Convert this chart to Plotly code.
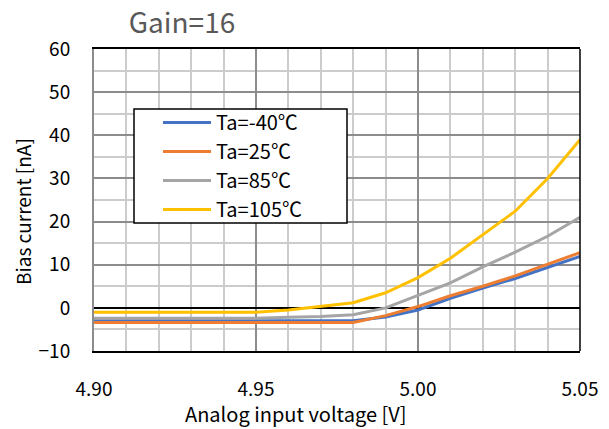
import plotly.graph_objects as go

# ── Data ───────────────────────────────────────────────────────────────────
voltage = [4.90, 4.91, 4.92, 4.93, 4.94, 4.95, 4.96, 4.97,
           4.98, 4.99, 5.00, 5.01, 5.02, 5.03, 5.04, 5.05]

ta_m40 = [-3.0, -3.0, -3.0, -3.0, -3.0, -3.0, -3.0, -3.0,
          -3.0, -2.1, -0.5, 2.2, 4.6, 6.8, 9.4, 11.9]
ta_25 = [-3.4, -3.4, -3.4, -3.4, -3.4, -3.4, -3.4, -3.4,
         -3.4, -1.8, 0.3, 2.8, 5.0, 7.4, 10.1, 12.8]
ta_85 = [-2.4, -2.4, -2.4, -2.4, -2.4, -2.4, -2.2, -2.0,
         -1.6, 0.0, 2.9, 5.8, 9.5, 12.9, 16.6, 21.0]
ta_105 = [-1.0, -1.0, -1.0, -1.0, -1.0, -1.0, -0.5, 0.3,
          1.2, 3.5, 7.0, 11.5, 17.0, 22.4, 30.0, 39.0]

series = [
    ("Ta=-40℃", ta_m40, "#4472C4"),
    ("Ta=25℃", ta_25, "#ED7D31"),
    ("Ta=85℃", ta_85, "#A5A5A5"),
    ("Ta=105℃", ta_105, "#FFC000"),
]

FONT = "Noto Sans CJK JP, DejaVu Sans, sans-serif"
OFF = 8                      # page body margin
W, H = 609 - OFF, 429 - OFF
L, T = 94 - OFF, 49 - OFF    # plot area in page pixels: 94..580 x 49..351
PW, PH = 486, 302
R, B = W - L - PW, H - T - PH


def px_x(x):
    return (x - OFF - L) / PW


def px_y(y):
    return 1 - (y - OFF - T) / PH


fig = go.Figure()
for name, vals, color in series:
    fig.add_trace(go.Scatter(
        x=voltage, y=vals, mode="lines", name=name,
        line=dict(color=color, width=3),
    ))

# legend frame (white box with black border)
fig.add_shape(type="rect", xref="paper", yref="paper",
              x0=px_x(134), x1=px_x(347), y0=px_y(223), y1=px_y(109),
              fillcolor="white", line=dict(color="black", width=1.5),
              layer="above")
# right border of plot area
fig.add_shape(type="line", xref="paper", yref="paper",
              x0=1, x1=1, y0=0, y1=1,
              line=dict(color="black", width=1.5), layer="above")

fig.add_annotation(text="Bias current [nA]", xref="paper", yref="paper",
                   x=px_x(22), y=px_y(212), xanchor="center", yanchor="middle",
                   textangle=-90, showarrow=False,
                   font=dict(size=19, color="black"))
fig.add_annotation(text="Analog input voltage [V]", xref="paper", yref="paper",
                   x=px_x(295), y=px_y(413), xanchor="center", yanchor="middle",
                   showarrow=False,
                   font=dict(size=20, color="black"))

fig.update_layout(
    width=W, height=H,
    paper_bgcolor="white", plot_bgcolor="white",
    font=dict(family=FONT, size=19, color="black"),
    margin=dict(l=L, r=R, t=T, b=B),
    title=dict(text="Gain=16", x=(182 - OFF) / W, xanchor="center",
               y=1 - (23 - OFF) / H, yanchor="middle",
               font=dict(size=28, color="#595959")),
    legend=dict(
        x=px_x(158), y=px_y(103),
        xanchor="left", yanchor="top",
        bgcolor="rgba(0,0,0,0)", borderwidth=0, itemwidth=48,
        font=dict(size=20, color="black"),
    ),
    xaxis=dict(
        range=[4.90, 5.05], dtick=0.05, tick0=4.90, tickformat=".2f",
        showgrid=True, gridcolor="#8C8C8C", gridwidth=1.5,
        minor=dict(dtick=0.01, showgrid=True, gridcolor="#CCCCCC", gridwidth=1.5),
        showline=True, linecolor="black", linewidth=1.5, mirror=True,
        zeroline=False, ticks="", ticklabelstandoff=20, automargin=False,
    ),
    yaxis=dict(
        range=[-10, 60], dtick=10,
        showgrid=True, gridcolor="#8C8C8C", gridwidth=1.5,
        minor=dict(dtick=5, showgrid=True, gridcolor="#CCCCCC", gridwidth=1.5),
        showline=True, linecolor="#8C8C8C", linewidth=2,
        zeroline=True, zerolinecolor="black", zerolinewidth=1.5,
        ticks="", ticklabelstandoff=18, automargin=False,
    ),
)

fig.write_html("out.html")
